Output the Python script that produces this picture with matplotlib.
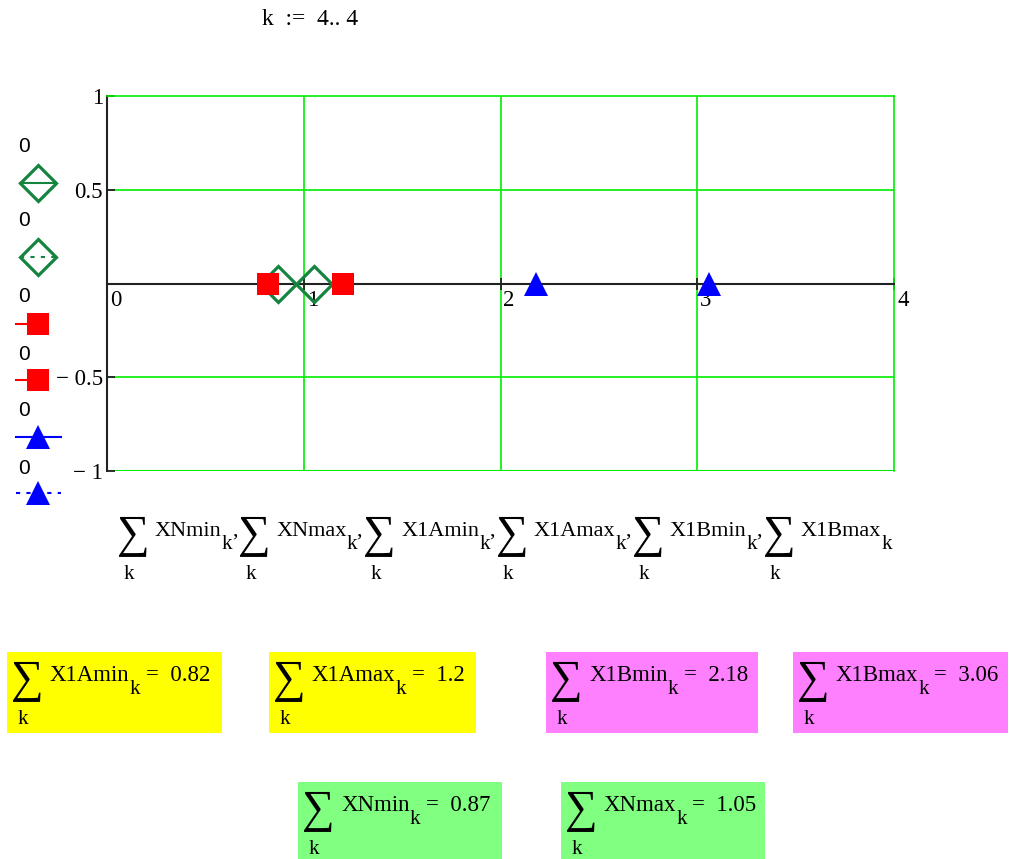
import matplotlib.pyplot as plt
from matplotlib.patches import Rectangle
import matplotlib.transforms as mtransforms

# summed values of each vector for k := 4..4
names = ["XNmin", "XNmax", "X1Amin", "X1Amax", "X1Bmin", "X1Bmax"]
sums = [0.87, 1.05, 0.82, 1.2, 2.18, 3.06]
y_vals = [0, 0, 0, 0, 0, 0]
legend_vals = ["0", "0", "0", "0", "0", "0"]

x_ticks = [0, 1, 2, 3, 4]
x_tick_labels = ["0", "1", "2", "3", "4"]
y_ticks = [-1, -0.5, 0.5, 1]
y_tick_labels = ["\u2212 1", "\u2212 0.5", "0.5", "1"]

# result boxes
box_names = ["X1Amin", "X1Amax", "X1Bmin", "X1Bmax", "XNmin", "XNmax"]
box_colors = ["#ffff00", "#ffff00", "#ff80ff", "#ff80ff", "#80ff80", "#80ff80"]

W, H = 1009, 859
SERIF = ["Liberation Serif", "DejaVu Serif"]
SANS = ["Liberation Sans", "DejaVu Sans"]
DKGREEN = "#15843f"

styles = [
    dict(marker="D", color=DKGREEN, mfc="none", ms=18.5, mew=2.3, ls="-"),
    dict(marker="D", color=DKGREEN, mfc="none", ms=18.5, mew=2.3, ls=(0, (2, 3))),
    dict(marker="s", color="#ff0000", mfc="#ff0000", ms=16.5, mew=0, ls="-"),
    dict(marker="s", color="#ff0000", mfc="#ff0000", ms=16.5, mew=0, ls="-"),
    dict(marker="^", color="#0000ff", mfc="#0000ff", ms=17, mew=0, ls="-"),
    dict(marker="^", color="#0000ff", mfc="#0000ff", ms=17, mew=0, ls=(0, (2, 3))),
]

fig = plt.figure(figsize=(W / 100, H / 100), dpi=100)
fig.patch.set_facecolor("white")

# pixel-coordinate layer for worksheet text and boxes
ov = fig.add_axes([0, 0, 1, 1], zorder=0)
ov.set_xlim(0, W)
ov.set_ylim(H, 0)
ov.axis("off")

ax = fig.add_axes([107 / W, (H - 471) / H, 787 / W, 375 / H], zorder=1)
ax.set_facecolor("none")
ax.set_xlim(0, 4)
ax.set_ylim(-1, 1)

grid_c = "#00ee00"
for s in ["top", "right"]:
    ax.spines[s].set_color(grid_c)
    ax.spines[s].set_linewidth(1.2)
ax.spines["left"].set_color("#222222")
ax.spines["left"].set_linewidth(1.5)
ax.spines["bottom"].set_position(("data", 0))
ax.spines["bottom"].set_color("#222222")
ax.spines["bottom"].set_linewidth(1.5)
ax.axhline(-1, color=grid_c, lw=1.5, zorder=0.5)
for xv in [1, 2, 3]:
    ax.axvline(xv, color=grid_c, lw=1.2, zorder=0.5)
for yv in [0.5, -0.5]:
    ax.axhline(yv, color=grid_c, lw=1.2, zorder=0.5)

ax.set_xticks(x_ticks)
ax.set_xticklabels(x_tick_labels, family=SERIF, fontsize=16.5, ha="left")
ax.tick_params(axis="x", direction="inout", length=9, width=1.3, color="#222222", pad=0)
shift = mtransforms.ScaledTranslation(3 / 100, 0, fig.dpi_scale_trans)
for lab in ax.get_xticklabels():
    lab.set_transform(lab.get_transform() + shift)

ax.set_yticks(y_ticks)
ax.set_yticklabels(y_tick_labels, family=SERIF, fontsize=16.5)
ax.tick_params(axis="y", direction="in", length=6, width=1.3, color="#222222", pad=3)

# traces
for v, yv, st in zip(sums, y_vals, styles):
    ax.plot([v], [yv], ls="none", marker=st["marker"], color=st["color"],
            mfc=st["mfc"], ms=st["ms"], mew=st["mew"], clip_on=False, zorder=3)

# legend down the left side
leg_label_y = [147, 221, 297, 354, 411, 468]
leg_sym_y = [183, 257, 324, 380, 437, 493]
for lab, ly, sy, st in zip(legend_vals, leg_label_y, leg_sym_y, styles):
    ov.text(18, ly, lab, family=SANS, fontsize=15, va="center", ha="left")
    if st["marker"] == "D":
        ov.plot([20, 56], [sy, sy], color=st["color"], lw=1.5, ls=st["ls"])
    elif st["marker"] == "s":
        ov.plot([16, 36], [sy, sy], color=st["color"], lw=1.5, ls=st["ls"])
    else:
        ov.plot([16, 61], [sy, sy], color=st["color"], lw=1.5, ls=st["ls"])
    ov.plot([38], [sy], ls="none", marker=st["marker"], color=st["color"],
            mfc=st["mfc"], ms=st["ms"], mew=st["mew"])

renderer = fig.canvas.get_renderer()


def width_of(t):
    return t.get_window_extent(renderer=renderer).width


def sum_expr(x, base, name, value=None, fs=16.5, gap=37):
    """Draw  sum_k name_k [= value]  with the sigma's left edge at x."""
    ov.text(x - 2, base - 1, "\u2211", family=SERIF, fontsize=33, va="center", ha="left")
    ov.text(x + 5, base + 43, "k", family=SERIF, fontsize=15, va="baseline", ha="left")
    t = ov.text(x + gap, base, name, family=SERIF, fontsize=fs, va="baseline", ha="left")
    xe = x + gap + width_of(t)
    ov.text(xe, base + 13, "k", family=SERIF, fontsize=15, va="baseline", ha="left")
    xe += 10
    if value is not None:
        t2 = ov.text(xe + 6, base, "=  " + value, family=SERIF, fontsize=fs,
                     va="baseline", ha="left")
        xe += 6 + width_of(t2)
    return xe


# range variable and the x-axis expression
ov.text(262, 25, "k  :=  4.. 4", family=SERIF, fontsize=17, va="baseline", ha="left")
xp = 119
for i, nm in enumerate(names):
    xe = sum_expr(xp, 536, nm, fs=16, gap=36)
    if i < len(names) - 1:
        tc = ov.text(xe, 536, ",", family=SERIF, fontsize=16, va="baseline", ha="left")
        xp = xe + width_of(tc) + 3

# evaluated sums
value_of = dict(zip(names, sums))
box_geom = [(7, 652, 215, 81), (269, 652, 207, 81), (546, 652, 212, 81),
            (793, 652, 215, 81), (298, 782, 204, 77), (561, 782, 204, 77)]
for nm, col, (bx, by, bw, bh) in zip(box_names, box_colors, box_geom):
    ov.add_patch(Rectangle((bx, by), bw, bh, facecolor=col, edgecolor="none"))
    sum_expr(bx + 6, by + 29, nm, "{:g}".format(value_of[nm]))

fig.savefig("out.png", dpi=100)
